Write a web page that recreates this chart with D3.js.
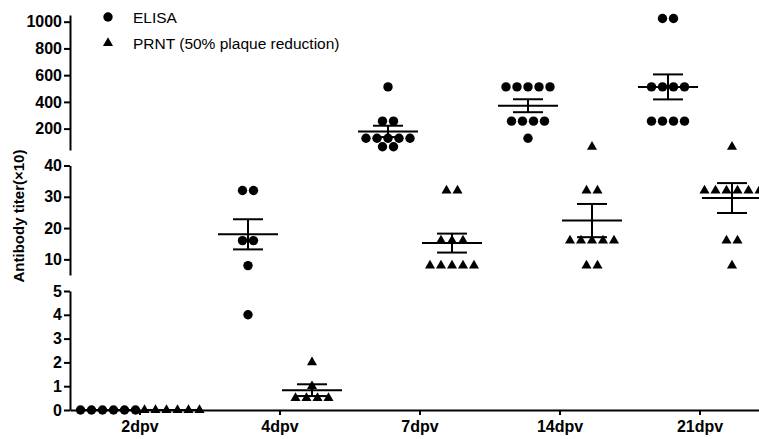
<!DOCTYPE html>
<html>
<head>
<meta charset="utf-8">
<script src="https://cdn.jsdelivr.net/npm/d3@7"></script>
<style>
  html, body { margin: 0; padding: 0; background: #fff; }
  svg { display: block; }
</style>
</head>
<body>
<svg id="chart" width="759" height="439"></svg>
<script>
// ---- data ----
const categories = ["2dpv", "4dpv", "7dpv", "14dpv", "21dpv"];
const seriesNames = ["ELISA", "PRNT (50% plaque reduction)"];
const elisaValues = [
  [0, 0, 0, 0, 0, 0],
  [32, 32, 16, 16, 8, 4],
  [512, 256, 256, 128, 128, 128, 128, 128, 64, 64],
  [512, 512, 512, 512, 512, 256, 256, 256, 256, 128],
  [1024, 1024, 512, 512, 512, 512, 256, 256, 256, 256]
];
const prntValues = [
  [0, 0, 0, 0, 0, 0],
  [2, 1, 0.5, 0.5, 0.5, 0.5],
  [32, 32, 16, 16, 16, 8, 8, 8, 8, 8],
  [64, 32, 32, 16, 16, 16, 16, 16, 8, 8],
  [64, 32, 32, 32, 32, 32, 32, 16, 16, 8]
];
const bottomTicks = [0, 1, 2, 3, 4, 5];
const middleTicks = [10, 20, 30, 40];
const topTicks = [200, 400, 600, 800, 1000];
const yTitle = "Antibody titer(×10)";

// ---- layout ----
const svg = d3.select("#chart");
const font = "'Liberation Sans', Arial, sans-serif";
const axisX = 70, baseY = 410;

const x = d3.scaleBand().domain(categories).range([axisX, axisX + 700]).padding(0);
const sub = d3.scalePoint().domain(seriesNames).range([-32, 32]);

const yBottom = d3.scaleLinear().domain([0, 5]).range([baseY, 291]);
const yMiddle = d3.scaleLinear().domain([5, 40]).range([275, 165.5]);
const yTop = d3.scaleLinear().domain([40, 1050]).range([150, 15]);
function yPos(v) {
  if (v < 5) return yBottom(v);
  if (v < 40) return yMiddle(v);
  return yTop(v);
}

// ---- axes ----
function styleAxis(g) {
  g.selectAll("path, line").attr("stroke", "#000").attr("stroke-width", 2);
  g.selectAll("text").attr("font-family", font).attr("font-size", 16)
    .attr("font-weight", "bold").attr("fill", "#000");
}
const fmt = d3.format("d");
[[yBottom, bottomTicks], [yMiddle, middleTicks], [yTop, topTicks]].forEach(([s, t]) => {
  const g = svg.append("g").attr("transform", `translate(${axisX},0)`)
    .call(d3.axisLeft(s).tickValues(t).tickFormat(fmt).tickSize(6).tickSizeOuter(0).tickPadding(2));
  styleAxis(g);
});
const gx = svg.append("g").attr("transform", `translate(0,${baseY})`)
  .call(d3.axisBottom(x).tickSize(5).tickSizeOuter(0).tickPadding(6));
styleAxis(gx);

// y title
svg.append("text")
  .attr("transform", `translate(24,216) rotate(-90)`)
  .attr("text-anchor", "middle")
  .attr("font-family", font).attr("font-size", 15).attr("font-weight", "bold")
  .text(yTitle);

// ---- points ----
const spacing = 11;
const circleSym = d3.symbol().type(d3.symbolCircle).size(Math.PI * 4.7 * 4.7);
const triSym = d3.symbol().type(d3.symbolTriangle).size(44);

function swarm(values, cx) {
  const groups = d3.groups(values, v => v);
  const pts = [];
  groups.forEach(([v, arr]) => {
    const n = arr.length;
    arr.forEach((_, i) => pts.push({ v, x: cx + (i - (n - 1) / 2) * spacing, y: yPos(v) }));
  });
  return pts;
}

function drawGroup(values, cx, sym) {
  const pts = swarm(values, cx);
  svg.append("g").selectAll("path").data(pts).join("path")
    .attr("d", sym)
    .attr("transform", d => `translate(${d.x},${d.y})`)
    .attr("fill", "#000");
  const mean = d3.mean(values);
  const sem = d3.deviation(values) / Math.sqrt(values.length) || 0;
  const g = svg.append("g").attr("stroke", "#000").attr("stroke-width", 2);
  g.append("line").attr("x1", cx - 30).attr("x2", cx + 30).attr("y1", yPos(mean)).attr("y2", yPos(mean));
  g.append("line").attr("x1", cx).attr("x2", cx).attr("y1", yPos(mean - sem)).attr("y2", yPos(mean + sem));
  g.append("line").attr("x1", cx - 15).attr("x2", cx + 15).attr("y1", yPos(mean + sem)).attr("y2", yPos(mean + sem));
  g.append("line").attr("x1", cx - 15).attr("x2", cx + 15).attr("y1", yPos(mean - sem)).attr("y2", yPos(mean - sem));
}

categories.forEach((c, i) => {
  const center = x(c) + x.bandwidth() / 2;
  drawGroup(elisaValues[i], center + sub(seriesNames[0]), circleSym);
  drawGroup(prntValues[i], center + sub(seriesNames[1]), triSym);
});

// ---- legend ----
const legend = svg.append("g");
[[circleSym, 17], [triSym, 43]].forEach(([sym, ly], i) => {
  legend.append("path").attr("d", sym).attr("transform", `translate(108,${ly})`).attr("fill", "#000");
  legend.append("text").attr("x", 133).attr("y", ly + 5.5)
    .attr("font-family", font).attr("font-size", 15.5).attr("fill", "#000")
    .text(seriesNames[i]);
});
</script>
</body>
</html>
